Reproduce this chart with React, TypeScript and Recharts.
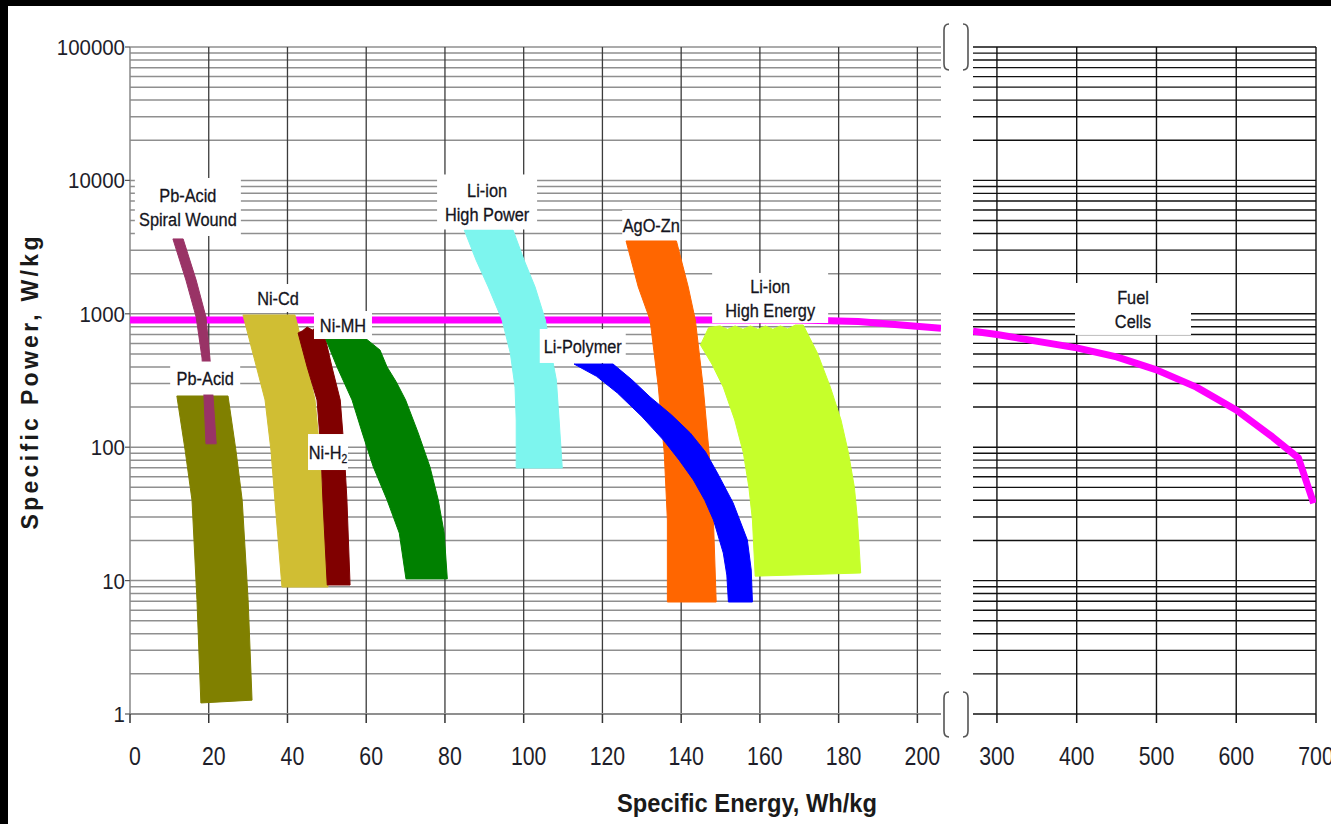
import React from 'react';
import { ScatterChart, Scatter, XAxis, YAxis, CartesianGrid, ReferenceDot } from 'recharts';

// ---------- axis values ----------
const powerTicks = [1, 10, 100, 1000, 10000, 100000];
const powerGridValues = [
  2, 3, 4, 5, 6, 7, 8, 9, 10,
  20, 30, 40, 50, 60, 70, 80, 90, 100,
  200, 300, 400, 500, 600, 700, 800, 900, 1000,
  2000, 3000, 4000, 5000, 6000, 7000, 8000, 9000, 10000,
  20000, 30000, 40000, 50000, 60000, 70000, 80000, 90000, 100000,
];
const energyTicksLeft = [0, 20, 40, 60, 80, 100, 120, 140, 160, 180, 200];
const energyGridLeft = [20, 40, 60, 80, 100, 120, 140, 160, 180, 200];
const energyTicksRight = [300, 400, 500, 600, 700];

// ---------- series outlines: [specific energy Wh/kg, specific power W/kg] ----------
const pbAcid: [number, number][] = [
  [11.9, 242], [14.0, 95], [15.75, 40], [17.0, 7.2], [18.0, 1.21],
  [31.0, 1.27], [30.0, 7.2], [28.5, 40], [26.9, 95], [24.9, 242], [11.9, 242],
];
const pbAcidSpiral: [number, number][] = [
  [10.9, 3640], [14.2, 1790], [16.8, 946], [18.3, 466], [18.8, 238], [19.3, 106],
  [21.9, 106], [21.1, 238], [20.3, 466], [19.3, 946], [16.8, 1790], [13.5, 3640], [10.9, 3640],
];
const niCd: [number, number][] = [
  [28.7, 980], [31.0, 535], [34.3, 226], [35.8, 95], [36.8, 40.2], [38.6, 8.95],
  [50.3, 8.95], [49.0, 40.2], [48.2, 95], [47.0, 226], [44.2, 535], [41.9, 980], [28.7, 980],
];
const niH2: [number, number][] = [
  [42.7, 718], [45.0, 399], [47.5, 226], [48.5, 95], [49.0, 40.2], [50.1, 9.27],
  [55.9, 9.27], [55.1, 40.2], [54.4, 95], [53.4, 226], [51.3, 399], [49.0, 783],
  [47.6, 800], [46.3, 755], [45.0, 795], [43.8, 745], [42.7, 718],
];
const niMH: [number, number][] = [
  [49.6, 659], [52.6, 399], [56.4, 226], [59.0, 128], [61.8, 71.1], [65.3, 40.2], [68.4, 22.7], [70.1, 10.3],
  [80.6, 10.3], [79.8, 22.7], [78.3, 40.2], [76.2, 71.1], [73.2, 128], [70.0, 226], [67.6, 310], [65.3, 399],
  [63.5, 535], [59.7, 659], [49.6, 659],
];
const liIonHighPower: [number, number][] = [
  [84.9, 4246], [87.9, 2531], [91.0, 1588], [94.5, 899], [96.6, 508], [97.8, 282], [98.1, 160], [98.1, 69.8],
  [109.8, 69.8], [109.0, 160], [108.3, 319], [107.0, 508], [105.5, 899], [102.9, 1588], [100.1, 2531],
  [97.3, 4246], [84.9, 4246],
];
const agoZn: [number, number][] = [
  [126.0, 3514], [129.1, 1588], [132.1, 899], [134.2, 282], [135.7, 90.5], [136.5, 28.5], [136.5, 6.91],
  [148.9, 6.91], [148.2, 28.5], [147.1, 90.5], [145.6, 282], [143.6, 899], [141.8, 1588], [138.8, 3514],
  [126.0, 3514],
];
const liPolymer: [number, number][] = [
  [112.8, 420], [122.7, 420], [127.5, 320], [132.1, 238], [137.5, 175], [142.3, 128], [146.2, 92], [149.2, 64.1],
  [153.2, 38.2], [156.8, 20.2], [157.8, 12], [158.1, 6.91],
  [152.0, 6.91], [151.6, 11], [150.7, 16.1], [148.2, 28.5], [146.0, 40], [143.1, 56.8], [139.5, 80],
  [135.5, 113], [130.0, 170], [123.8, 255], [118.5, 340], [112.8, 420],
];
const liIonHighEnergy: [number, number][] = [
  [144.9, 584], [147.0, 790], [149.9, 811], [151.8, 765], [153.7, 811], [155.7, 765], [157.6, 811],
  [159.5, 765], [161.4, 811], [163.3, 765], [165.2, 811], [167.1, 770], [169.0, 824], [171.0, 824],
  [174.6, 508], [177.9, 282], [180.6, 160], [182.5, 90.5], [184.0, 50], [184.8, 28.5], [185.6, 11.4],
  [158.8, 10.8], [158.1, 28.5], [157.2, 50], [155.8, 90.5], [153.6, 160], [150.7, 282], [147.8, 420], [144.9, 584],
];
const fuelCellsLeft: [number, number][] = [
  [0, 900], [170, 900], [185, 875], [206, 780],
];
const fuelCellsRight: [number, number][] = [
  [270, 740], [300, 700], [400, 555], [450, 475], [500, 380], [550, 282], [600, 190], [645, 120], [678, 83], [697, 38],
];

const toPts = (arr: [number, number][]) => arr.map(([x, y]) => ({ x, y }));

const bands: { name: string; data: [number, number][]; color: string }[] = [
  { name: 'Pb-Acid', data: pbAcid, color: '#808000' },
  { name: 'Pb-Acid Spiral Wound', data: pbAcidSpiral, color: '#993366' },
  { name: 'Ni-Cd', data: niCd, color: '#D0BE33' },
  { name: 'Ni-H2', data: niH2, color: '#800000' },
  { name: 'Ni-MH', data: niMH, color: '#008000' },
  { name: 'Li-ion High Power', data: liIonHighPower, color: '#7DF5EE' },
  { name: 'AgO-Zn', data: agoZn, color: '#FF6600' },
  { name: 'Li-Polymer', data: liPolymer, color: '#0000FF' },
  { name: 'Li-ion High Energy', data: liIonHighEnergy, color: '#C6FF2B' },
];

// ---------- annotation labels ----------
const labelsLeft = [
  { lines: ['Pb-Acid', 'Spiral Wound'], e: 14.7, p: 6320, w: 106, h: 58 },
  { lines: ['Ni-Cd'], e: 37.6, p: 1313, w: 50, h: 28 },
  { lines: ['Ni-MH'], e: 54.1, p: 824, w: 58, h: 28 },
  { lines: ['Pb-Acid'], e: 19.1, p: 330, w: 70, h: 33 },
  { lines: ['Ni-H|2'], e: 50.3, p: 92, w: 40, h: 36 },
  { lines: ['Li-ion', 'High Power'], e: 90.7, p: 6890, w: 100, h: 55 },
  { lines: ['AgO-Zn'], e: 132.4, p: 4634, w: 58, h: 30 },
  { lines: ['Li-ion', 'High Energy'], e: 162.6, p: 1314, w: 116, h: 50 },
  { lines: ['Li-Polymer'], e: 115.0, p: 574, w: 86, h: 34 },
];
const labelsRight = [
  { lines: ['Fuel', 'Cells'], e: 470.6, p: 1087, w: 116, h: 52 },
];

const FONT = '"Liberation Sans", Arial, sans-serif';
const noShape = () => <g />;

const makeLabelShape = (lines: string[], w: number, h: number) => (props: any) => {
  const { cx, cy } = props;
  return (
    <g>
      <rect x={cx - w / 2} y={cy - h / 2} width={w} height={h} fill="#ffffff" />
      {lines.map((t, i) => {
        const ty = cy + (i - (lines.length - 1) / 2) * 24 + 7;
        const parts = t.split('|');
        return (
          <text
            key={i}
            transform={`translate(${cx},${ty}) scale(0.86,1)`}
            textAnchor="middle"
            fontSize={19}
            fontFamily={FONT}
            fill="#141420"
            stroke="#141420"
            strokeWidth={0.3}
          >
            {parts[0]}
            {parts[1] ? (
              <tspan fontSize={12} dy={4}>{parts[1]}</tspan>
            ) : null}
          </text>
        );
      })}
    </g>
  );
};

const renderYTick = (props: any) => {
  const { x, y, payload } = props;
  return (
    <text
      transform={`translate(${x},${y + 8}) scale(0.93,1)`}
      textAnchor="end"
      fontSize={22}
      fontFamily={FONT}
      fill="#1e1e2a"
    >
      {payload.value}
    </text>
  );
};

const makeXTick = (dx: number) => (props: any) => {
  const { x, y, payload } = props;
  return (
    <text
      transform={`translate(${x + dx},${y + 42}) scale(0.82,1)`}
      textAnchor="middle"
      fontSize={26}
      fontFamily={FONT}
      fill="#1e1e2a"
    >
      {payload.value}
    </text>
  );
};

const H = 824;

export default function App() {
  return (
    <div style={{ position: 'absolute', left: 0, top: 0, width: 1331, height: H, background: '#000', overflow: 'hidden' }}>
      <div style={{ position: 'absolute', left: 8, top: 6, width: 1323, height: H - 6, background: '#fff' }} />

      {/* left panel: 0 - 200 Wh/kg */}
      <div style={{ position: 'absolute', left: 0, top: 0 }}>
        <ScatterChart width={960} height={H} margin={{ top: 47, right: 19, bottom: 50, left: 0 }}>
          <CartesianGrid horizontal horizontalValues={powerGridValues} vertical={false} stroke="#8f8f8f" strokeWidth={1.5} />
          <CartesianGrid vertical verticalValues={energyGridLeft} horizontal={false} stroke="#3c3c3c" strokeWidth={1.3} />
          <XAxis
            dataKey="x"
            type="number"
            domain={[0, 206]}
            ticks={energyTicksLeft}
            allowDataOverflow
            interval={0}
            height={60}
            tickSize={9}
            tickMargin={0}
            axisLine={{ stroke: '#8f8f8f', strokeWidth: 2 }}
            tickLine={{ stroke: '#333', strokeWidth: 1.5 }}
            tick={makeXTick(5)}
          />
          <YAxis
            dataKey="y"
            type="number"
            scale="log"
            domain={[1, 100000]}
            ticks={powerTicks}
            allowDataOverflow
            interval={0}
            width={130}
            tickSize={5}
            tickMargin={0}
            axisLine={{ stroke: '#888', strokeWidth: 1.5 }}
            tickLine={{ stroke: '#555', strokeWidth: 1.2 }}
            tick={renderYTick}
          />
          <Scatter
            name="Fuel Cells"
            data={toPts(fuelCellsLeft)}
            fill="#FF00FF"
            line={{ stroke: '#FF00FF', strokeWidth: 7, fill: 'none' }}
            shape={noShape}
            isAnimationActive={false}
            legendType="none"
          />
          {bands.map((b) => (
            <Scatter
              key={b.name}
              name={b.name}
              data={toPts(b.data)}
              fill={b.color}
              line={{ stroke: b.color, strokeWidth: 1, fill: b.color, strokeLinejoin: 'round' }}
              shape={noShape}
              isAnimationActive={false}
              legendType="none"
            />
          ))}
          {labelsLeft.map((l, i) => (
            <ReferenceDot
              key={i}
              x={l.e}
              y={l.p}
              r={1}
              zIndex={2000}
              ifOverflow="visible"
              shape={makeLabelShape(l.lines, l.w, l.h)}
            />
          ))}
        </ScatterChart>
      </div>

      {/* right panel: 300 - 700 Wh/kg */}
      <div style={{ position: 'absolute', left: 960, top: 0 }}>
        <ScatterChart width={371} height={H} margin={{ top: 47, right: 15, bottom: 50, left: 13 }}>
          <CartesianGrid horizontal horizontalValues={powerGridValues} vertical={false} stroke="#111" strokeWidth={1.4} />
          <CartesianGrid vertical verticalValues={energyTicksRight} horizontal={false} stroke="#111" strokeWidth={1.4} />
          <XAxis
            dataKey="x"
            type="number"
            domain={[270, 700]}
            ticks={energyTicksRight}
            allowDataOverflow
            interval={0}
            height={60}
            tickSize={9}
            tickMargin={0}
            axisLine={{ stroke: '#111', strokeWidth: 1.5 }}
            tickLine={{ stroke: '#111', strokeWidth: 1.5 }}
            tick={makeXTick(0)}
          />
          <YAxis
            dataKey="y"
            type="number"
            scale="log"
            domain={[1, 100000]}
            ticks={powerTicks}
            allowDataOverflow
            interval={0}
            hide
          />
          <Scatter
            name="Fuel Cells"
            data={toPts(fuelCellsRight)}
            fill="#FF00FF"
            line={{ stroke: '#FF00FF', strokeWidth: 7, fill: 'none', strokeLinejoin: 'round' }}
            shape={noShape}
            isAnimationActive={false}
            legendType="none"
          />
          {labelsRight.map((l, i) => (
            <ReferenceDot
              key={i}
              x={l.e}
              y={l.p}
              r={1}
              zIndex={2000}
              ifOverflow="visible"
              shape={makeLabelShape(l.lines, l.w, l.h)}
            />
          ))}
        </ScatterChart>
      </div>

      {/* axis titles and break marks */}
      <svg width={1331} height={H} style={{ position: 'absolute', left: 0, top: 0, pointerEvents: 'none' }}>
        <text
          x={747}
          y={812}
          textAnchor="middle"
          fontFamily={FONT}
          fontWeight="bold"
          fontSize={25}
          textLength={260}
          lengthAdjust="spacingAndGlyphs"
          fill="#1a1a1a"
        >
          Specific Energy, Wh/kg
        </text>
        <text
          transform="translate(38,383) rotate(-90)"
          textAnchor="middle"
          fontFamily={FONT}
          fontWeight="bold"
          fontSize={23}
          textLength={293}
          lengthAdjust="spacing"
          fill="#1a1a1a"
        >
          Specific Power, W/kg
        </text>
        <g fill="none" stroke="#555" strokeWidth={1.6}>
          <path d="M 949 24 Q 944 24 944 30 L 944 64 Q 944 70 949 70" />
          <path d="M 963 24 Q 968 24 968 30 L 968 64 Q 968 70 963 70" />
          <path d="M 949 692 Q 944 692 944 698 L 944 731 Q 944 737 949 737" />
          <path d="M 963 692 Q 968 692 968 698 L 968 731 Q 968 737 963 737" />
        </g>
      </svg>
    </div>
  );
}
